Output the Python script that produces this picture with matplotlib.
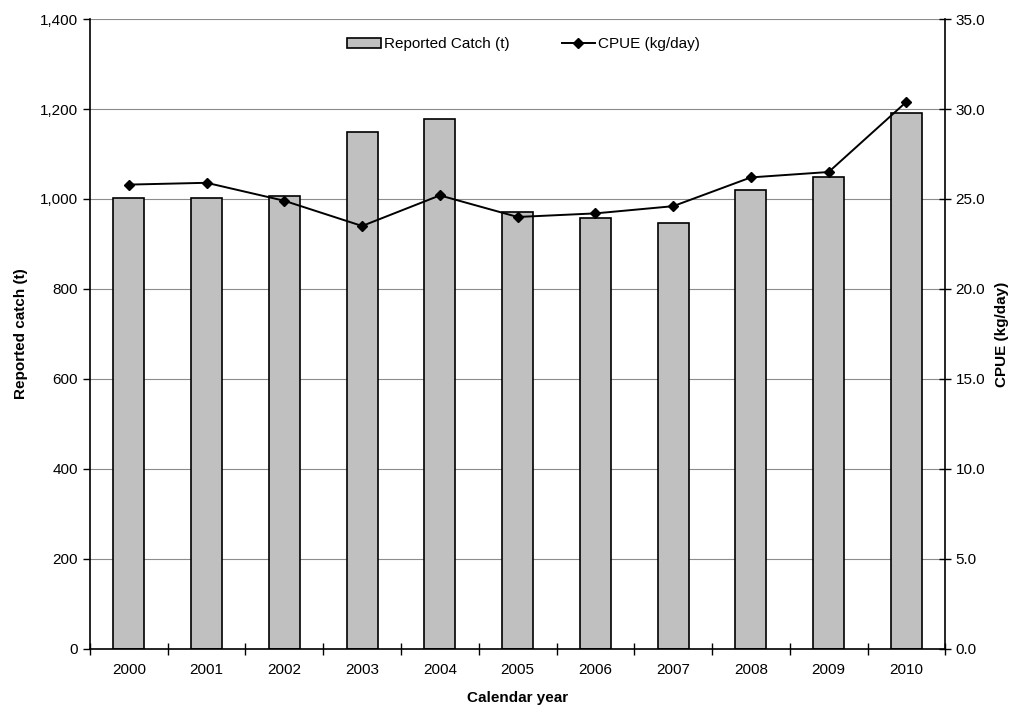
import numpy as np
import matplotlib.pyplot as plt
from matplotlib.ticker import FuncFormatter, FixedLocator

plt.rcParams['font.family'] = ['Liberation Sans', 'DejaVu Sans']

# data
years = ['2000', '2001', '2002', '2003', '2004', '2005', '2006', '2007', '2008', '2009', '2010']
catch_t = [1003, 1002, 1006, 1148, 1177, 970, 957, 947, 1021, 1050, 1192]
cpue = [25.8, 25.9, 24.9, 23.5, 25.2, 24.0, 24.2, 24.6, 26.2, 26.5, 30.4]

x = np.arange(len(years))

fig = plt.figure(figsize=(10.11, 7.06), dpi=100)
ax = fig.add_axes([0.089, 0.081, 0.846, 0.892])

ax.set_ylim(0, 1400)
ax.set_xlim(-0.5, len(years) - 0.5)
ax.yaxis.set_major_locator(FixedLocator(np.arange(0, 1401, 200)))
ax.yaxis.set_major_formatter(FuncFormatter(lambda v, p: f'{int(v):,}'))
ax.grid(axis='y', color='#8c8c8c', lw=0.8)
ax.set_axisbelow(True)

bars = ax.bar(x, catch_t, width=0.4, color='#C0C0C0', edgecolor='black',
              lw=1.2, label='Reported Catch (t)', zorder=2)

# x ticks at category boundaries, labels centred
ax.set_xticks(np.arange(-0.5, len(years)), minor=False)
ax.set_xticklabels([])
ax.set_xticks(x, minor=True)
ax.set_xticklabels(years, minor=True)
ax.tick_params(axis='x', which='major', length=8, width=1, direction='inout')
ax.tick_params(axis='x', which='minor', length=0, pad=10, labelsize=11)
ax.tick_params(axis='y', length=5, width=1, direction='out', labelsize=11)

ax.spines['top'].set_visible(False)
ax.spines['right'].set_visible(False)
ax.spines['left'].set_linewidth(1.2)
ax.spines['bottom'].set_linewidth(1.2)

ax.set_xlabel('Calendar year', fontweight='bold', fontsize=11, labelpad=10)
ax.set_ylabel('Reported catch (t)', fontweight='bold', fontsize=11, labelpad=9)

ax2 = ax.twinx()
ax2.set_ylim(0, 35)
ax2.yaxis.set_major_locator(FixedLocator(np.arange(0, 35.1, 5)))
ax2.yaxis.set_major_formatter(FuncFormatter(lambda v, p: f'{v:.1f}'))
line, = ax2.plot(x, cpue, color='black', lw=1.4, marker='D', markersize=5.5,
                 label='CPUE (kg/day)', zorder=3)
ax2.tick_params(axis='y', length=8, width=1, direction='inout', labelsize=11)
ax2.spines['top'].set_visible(False)
ax2.spines['left'].set_visible(False)
ax2.spines['bottom'].set_visible(False)
ax2.spines['right'].set_linewidth(1.2)
ax2.set_ylabel('CPUE (kg/day)', fontweight='bold', fontsize=11, rotation=90, labelpad=7)

fig.legend([bars, line], ['Reported Catch (t)', 'CPUE (kg/day)'], ncol=2,
           loc='center', bbox_to_anchor=(0.518, 0.937), frameon=False,
           fontsize=11, columnspacing=3.4, handlelength=2.2, handletextpad=0.2)

fig.savefig('out.png', dpi=100)
